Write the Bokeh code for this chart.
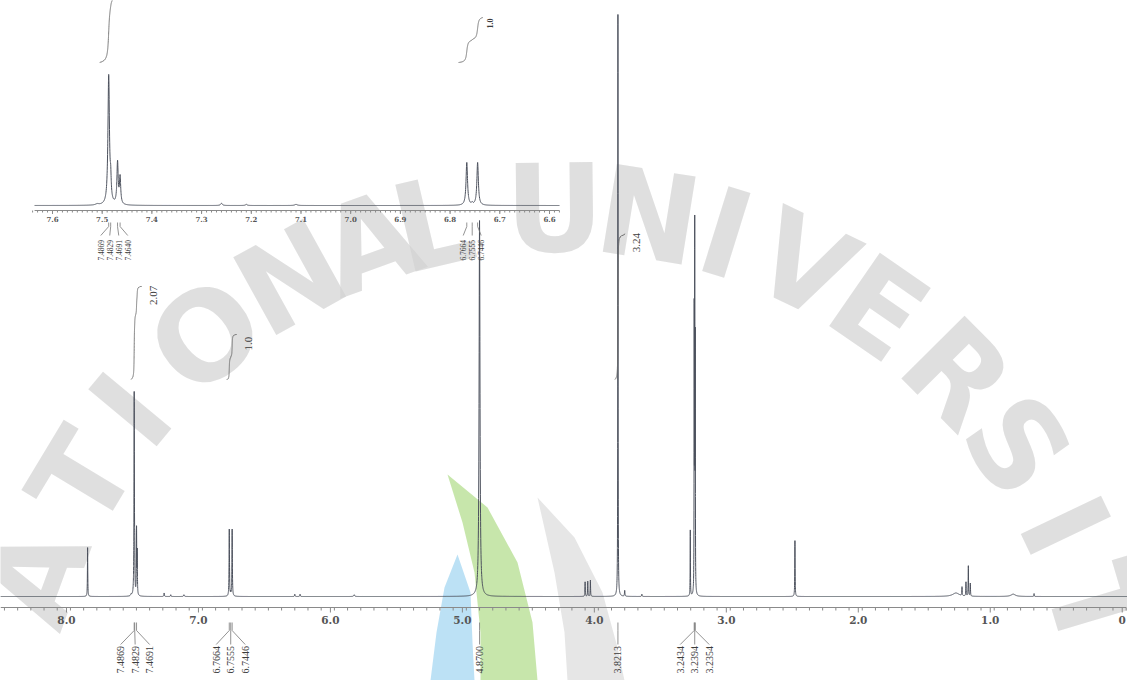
import numpy as np
from bokeh.plotting import figure
from bokeh.models import Range1d
from bokeh.core.properties import value
from bokeh.embed import file_html
from bokeh.resources import INLINE

# ---------------- data ----------------
# peak list: chemical shift (ppm), relative height (% of tallest), half width (ppm)
peak_ppm = [7.840, 7.510, 7.4869, 7.4829, 7.4691, 7.4640, 7.260, 7.210, 7.110,
            6.7664, 6.7555, 6.7446, 6.270, 6.230, 5.820, 4.8700,
            4.070, 4.050, 4.030, 3.8213, 3.770, 3.640, 3.273,
            3.2434, 3.2394, 3.2354, 2.480, 1.260, 1.214, 1.184, 1.166, 1.151,
            0.826, 0.668]
peak_height = [8.4, 0.3, 34.7, 5.0, 11.2, 7.2, 0.6, 0.3, 0.3,
               11.5, 0.5, 11.5, 0.4, 0.4, 0.3, 64.6,
               2.5, 2.6, 2.8, 100.0, 1.0, 0.4, 11.3,
               47.0, 60.3, 42.0, 9.6, 0.6, 1.5, 2.4, 5.2, 2.2,
               0.4, 0.5]
peak_width = [0.0015, 0.004, 0.0018, 0.0012, 0.0015, 0.0015, 0.002, 0.002, 0.003,
              0.0018, 0.0015, 0.0018, 0.002, 0.002, 0.004, 0.004,
              0.0015, 0.0015, 0.0015, 0.0012, 0.002, 0.002, 0.0012,
              0.0010, 0.0010, 0.0010, 0.0015, 0.03, 0.0015, 0.0015, 0.0015, 0.0015,
              0.02, 0.0015]

# main axis ticks
main_ticks = [8.0, 7.0, 6.0, 5.0, 4.0, 3.0, 2.0, 1.0, 0.0]
main_tick_labels = ["8.0", "7.0", "6.0", "5.0", "4.0", "3.0", "2.0", "1.0", "0"]
# inset axis ticks
inset_ticks = [7.6, 7.5, 7.4, 7.3, 7.2, 7.1, 7.0, 6.9, 6.8, 6.7, 6.6]
inset_tick_labels = ["7.6", "7.5", "7.4", "7.3", "7.2", "7.1", "7.0", "6.9", "6.8", "6.7", "6.6"]

# peak-picking labels
main_pick_groups = [[7.4869, 7.4829, 7.4691], [6.7664, 6.7555, 6.7446], [4.8700],
                    [3.8213], [3.2434, 3.2394, 3.2354]]
inset_pick_groups = [[7.4869, 7.4829, 7.4691, 7.4640], [6.7664, 6.7555, 6.7446]]

# integrals: region (from, to) in ppm and integral value
main_int_from = [7.51, 6.785, 3.845]
main_int_to = [7.43, 6.710, 3.770]
main_int_value = [2.07, 1.0, 3.24]
main_int_label = ["2.07", "1.0", "3.24"]
inset_int_from = [7.505, 6.783]
inset_int_to = [7.440, 6.734]
inset_int_value = [2.07, 1.0]
inset_int_label = ["2.07", "1.0"]

# watermark of the scanned page: letters and their angle along the arc (degrees)
wm_letters = ["A", "T", "I", "O", "N", "A", "L", "U", "N", "I", "V", "E", "R", "S", "I", "T"]
wm_angles = [-69.9, -58.9, -50.2, -39.4, -28.9, -20.0, -13.2, -0.6, 9.1, 17.2, 25.9, 34.7,
             45.2, 54.8, 64.4, 73.4]

# ---------------- layout ----------------
W, H = 1127, 680
X_START, X_END = 8.50, -0.04          # main ppm range
PX_PER_PPM = W / (X_START - X_END)
INSET_START, INSET_END = 7.7046, 5.437  # inset ppm range (extra range)
IPX_PER_PPM = W / (INSET_START - INSET_END)
INSET_LO, INSET_HI = 6.580, 7.636
Y_LO, Y_HI = -84, 596
MAIN_SCALE = 5.82      # px per % in main
INSET_SCALE = 3.72     # px per % in inset
INSET_BASE = 391
INT_UNIT = 45.0        # px per integral unit
MAIN_INT_BASE = 217
INSET_INT_BASE = 534

LINE = "#4b505c"
AX = "#8a8a8a"
TXT = "#3c3c3c"

p = figure(width=W, height=H, x_range=Range1d(X_START, X_END), y_range=Range1d(Y_LO, Y_HI),
           output_backend="svg", toolbar_location=None, x_axis_type=None, y_axis_type=None,
           min_border=0, min_border_left=0, min_border_right=0, min_border_top=0,
           min_border_bottom=0)
p.extra_x_ranges = {"inset": Range1d(INSET_START, INSET_END)}
p.xgrid.visible = False
p.ygrid.visible = False
p.outline_line_color = None
p.background_fill_color = "white"


def sx_to_ppm(sx):
    return X_START - (sx - 8) / PX_PER_PPM


def sy_to_y(sy):
    return 604 - sy


# ---------------- watermark (scan decoration) ----------------
wm_cx, wm_cy, wm_r = 568.0, 775.0, 558.0
th = np.radians(np.array(wm_angles))
wm_x = [sx_to_ppm(v) for v in wm_cx + wm_r * np.sin(th)]
wm_y = [sy_to_y(v) for v in wm_cy - wm_r * np.cos(th)]
blue = [(465, 562), (478, 600), (480, 650), (482, 700), (438, 700), (444, 640), (452, 595)]
green = [(455, 482), (495, 515), (525, 570), (540, 630), (545, 700), (488, 700), (488, 640),
         (482, 580), (470, 530)]
gray = [(545, 505), (582, 545), (610, 600), (625, 655), (632, 700), (575, 700), (572, 640),
        (562, 580)]
for poly, col in [(blue, "#b0dcf3"), (green, "#bde29c"), (gray, "#e2e2e2")]:
    p.patch([sx_to_ppm(a) for a, b in poly], [max(sy_to_y(b), Y_LO) for a, b in poly],
            fill_color=col, line_color=None, fill_alpha=0.85)
p.text(x=wm_x, y=wm_y, text=wm_letters, angle=list(-th), text_align="center",
       text_baseline="middle", text_font=value("DejaVu Sans"), text_font_style="bold",
       text_font_size="122px", text_color="#d2d2d2", text_alpha=0.7)

# ---------------- spectrum ----------------
c = np.array(peak_ppm)
h = np.array(peak_height)
g = np.array(peak_width)


def spec(x):
    x = np.asarray(x)[:, None]
    return (h * g ** 2 / ((x - c) ** 2 + g ** 2)).sum(axis=1)


def grid(lo, hi, n):
    parts = [np.linspace(lo, hi, n)]
    for cc, gg in zip(c, g):
        if lo - 0.05 <= cc <= hi + 0.05:
            parts.append(np.linspace(cc - 10 * gg, cc + 10 * gg, 61))
    xx = np.unique(np.concatenate(parts))
    return xx[(xx >= lo) & (xx <= hi)]


xm = grid(X_END, X_START, 9000)[::-1]
p.line(xm, spec(xm) * MAIN_SCALE, line_color=LINE, line_width=1)

xi = grid(INSET_LO, INSET_HI, 3000)[::-1]
p.line(xi, INSET_BASE + spec(xi) * INSET_SCALE, line_color=LINE, line_width=1,
       x_range_name="inset")


# ---------------- axes (drawn) ----------------
def draw_axis(lo, hi, y0, minor_step, ticks, labels, maj_len, min_len, lab_y, font_size, rname):
    kw = {} if rname is None else {"x_range_name": rname}
    p.segment(x0=[hi], y0=[y0], x1=[lo], y1=[y0], line_color=AX, line_width=1, **kw)
    n = int(round((hi - lo) / minor_step))
    mt = [round(lo + k * minor_step, 4) for k in range(n + 1)]
    p.segment(x0=mt, y0=[y0] * len(mt), x1=mt, y1=[y0 - min_len] * len(mt),
              line_color=AX, line_width=1, **kw)
    p.segment(x0=ticks, y0=[y0] * len(ticks), x1=ticks, y1=[y0 - maj_len] * len(ticks),
              line_color=AX, line_width=1, **kw)
    p.text(x=ticks, y=[lab_y] * len(ticks), text=labels, text_align="center",
           text_baseline="middle", text_font=value("DejaVu Serif"), text_font_style="bold",
           text_font_size=font_size, text_color="#555555", **kw)


draw_axis(max(X_END, -0.03), X_START, -11, 0.1, main_ticks, main_tick_labels, 5, 3, -23,
          "10.5px", None)
draw_axis(INSET_LO, INSET_HI, 386, 0.01, inset_ticks, inset_tick_labels, 3.5, 2, 377.5, "7px",
          "inset")


# ---------------- peak picking labels ----------------
def draw_picks(groups, ppx, stub_top, stub_bot, fan_bot, lab_y, spacing_px, font_size, rname):
    kw = {} if rname is None else {"x_range_name": rname}
    sx0, sy0, sx1, sy1 = [], [], [], []
    lx, lt = [], []
    for grp in groups:
        cen = float(np.mean(grp))
        n = len(grp)
        for k, v in enumerate(grp):
            lpos = cen - (k - (n - 1) / 2) * spacing_px / ppx
            sx0 += [v, v]
            sy0 += [stub_top, stub_bot]
            sx1 += [v, lpos]
            sy1 += [stub_bot, fan_bot]
            lx.append(lpos)
            lt.append("%.4f" % v)
    p.segment(x0=sx0, y0=sy0, x1=sx1, y1=sy1, line_color="#777777", line_width=0.8, **kw)
    p.text(x=lx, y=[lab_y] * len(lx), text=lt, angle=np.pi / 2, text_align="left",
           text_baseline="middle", text_font=value("Liberation Serif"),
           text_font_size=font_size, text_color=TXT, **kw)


draw_picks(main_pick_groups, PX_PER_PPM, -26, -34, -48, -77, 14.5, "10px", None)
draw_picks(inset_pick_groups, IPX_PER_PPM, 374, 370, 361, 336, 9.0, "7.5px", "inset")


# ---------------- integrals ----------------
def draw_integrals(f, t, vals, labs, base, ppx, lab_dx, lab_dy, font_size, bold, rname):
    kw = {} if rname is None else {"x_range_name": rname}
    for a, b, v, lab in zip(f, t, vals, labs):
        xx = grid(b, a, 600)[::-1]
        yy = spec(xx)
        cs = np.concatenate([[0.0], np.cumsum(0.5 * (yy[1:] + yy[:-1]) * np.abs(np.diff(xx)))])
        cs = cs / cs[-1]
        top = base + v * INT_UNIT
        p.line(xx, base + v * INT_UNIT * cs, line_color="#6a6a6a", line_width=0.9, **kw)
        if top - lab_dy + 12 < Y_HI:
            p.text(x=[b - lab_dx / ppx], y=[top - lab_dy], text=[lab], angle=np.pi / 2,
                   text_align="center", text_baseline="middle",
                   text_font=value("Liberation Serif"), text_font_size=font_size,
                   text_font_style="bold" if bold else "normal", text_color=TXT, **kw)


draw_integrals(main_int_from, main_int_to, main_int_value, main_int_label, MAIN_INT_BASE,
               PX_PER_PPM, 12, 9, "11px", False, None)
draw_integrals(inset_int_from, inset_int_to, inset_int_value, inset_int_label, INSET_INT_BASE,
               IPX_PER_PPM, 7, 6, "8px", True, "inset")

open("out.html", "w").write(file_html(p, INLINE))
